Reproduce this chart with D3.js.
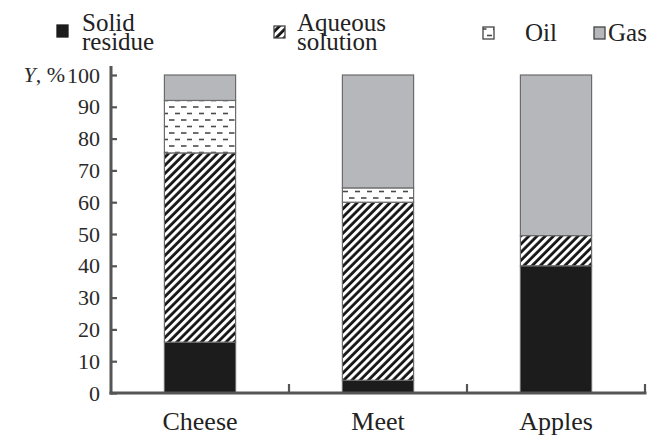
<!DOCTYPE html>
<html>
<head>
<meta charset="utf-8">
<script src="https://cdn.jsdelivr.net/npm/d3@7"></script>
</head>
<body style="margin:0">
<svg id="chart" width="662" height="436" font-family="Liberation Serif"></svg>
<script>
// ---- data ----
const categories = ["Cheese", "Meet", "Apples"];
const seriesNames = ["Solid residue", "Aqueous solution", "Oil", "Gas"];
const solidResidue = [16, 4, 40];
const aqueousSolution = [59.5, 56, 9.5];
const oil = [16.5, 4.5, 0];
const gas = [8, 35.5, 50.5];
const yTicks = [0, 10, 20, 30, 40, 50, 60, 70, 80, 90, 100];
const legendLines = [["Solid", "residue"], ["Aqueous", "solution"], ["Oil"], ["Gas"]];

const FONT = "'Liberation Serif'";
const svg = d3.select("#chart");
const defs = svg.append("defs");

function serif(sel, size) {
  return sel.attr("font-family", "Liberation Serif").attr("font-size", size)
    .style("font-family", FONT).style("font-size", size + "px");
}

// hatch pattern "/"
const hatch = defs.append("pattern").attr("id", "hatch")
  .attr("patternUnits", "userSpaceOnUse").attr("width", 5.8).attr("height", 5.8)
  .attr("patternTransform", "rotate(45)");
hatch.append("rect").attr("width", 5.8).attr("height", 5.8).attr("fill", "#fff");
hatch.append("line").attr("x1", 1.5).attr("x2", 1.5).attr("y1", -1).attr("y2", 7)
  .attr("stroke", "#151515").attr("stroke-width", 2.8);

// oil dashed pattern
const dash = defs.append("pattern").attr("id", "dash")
  .attr("patternUnits", "userSpaceOnUse").attr("width", 12).attr("height", 13)
  .attr("x", 0).attr("y", 0);
dash.append("rect").attr("width", 12).attr("height", 13).attr("fill", "#fff");
dash.append("line").attr("x1", 1).attr("x2", 6.5).attr("y1", 3).attr("y2", 3)
  .attr("stroke", "#4a4a4a").attr("stroke-width", 1.6);
dash.append("line").attr("x1", 7).attr("x2", 12.5).attr("y1", 9.5).attr("y2", 9.5)
  .attr("stroke", "#4a4a4a").attr("stroke-width", 1.6);

const fills = ["#1c1c1c", "url(#hatch)", "url(#dash)", "#b6b7bb"];

// ---- scales ----
const x = d3.scaleBand().domain(categories).range([111, 645]).padding(0);
const y = d3.scaleLinear().domain([0, 100]).range([393, 75]);
const barW = x.bandwidth() * 0.4;

const table = categories.map((c, i) => ({
  category: c,
  "Solid residue": solidResidue[i],
  "Aqueous solution": aqueousSolution[i],
  "Oil": oil[i],
  "Gas": gas[i]
}));
const stacked = d3.stack().keys(seriesNames)(table);

// ---- bars ----
const gBars = svg.append("g");
stacked.forEach((layer, si) => {
  gBars.selectAll(null).data(layer.filter(d => d[1] - d[0] > 0)).enter().append("rect")
    .attr("x", d => x(d.data.category) + (x.bandwidth() - barW) / 2)
    .attr("width", barW)
    .attr("y", d => y(d[1]))
    .attr("height", d => y(d[0]) - y(d[1]))
    .attr("fill", fills[si])
    .attr("stroke", "#6b6b6b")
    .attr("stroke-width", 1.2);
});

// ---- y axis ----
const yAxis = d3.axisLeft(y).tickValues(yTicks).tickFormat(d3.format("d"))
  .tickSizeInner(-6).tickSizeOuter(0).tickPadding(11);
const gy = svg.append("g").attr("transform", "translate(111,0)").call(yAxis);
serif(gy, 22);
gy.select(".domain").remove();
gy.selectAll(".tick line").attr("stroke", "#555").attr("stroke-width", 2.2);
serif(gy.selectAll(".tick text"), 22).attr("fill", "#2a2a2a");
svg.append("line").attr("x1", 111).attr("x2", 111).attr("y1", 66).attr("y2", 394.5)
  .attr("stroke", "#555").attr("stroke-width", 3);

// y label
const yl = serif(svg.append("text"), 22).attr("x", 65).attr("y", y(100)).attr("dy", "0.32em")
  .attr("text-anchor", "end").attr("fill", "#2a2a2a");
yl.append("tspan").attr("font-style", "italic").style("font-style", "italic").text("Y");
yl.append("tspan").text(", %");

// ---- x axis ----
const xAxis = d3.axisBottom(x).tickSize(0).tickPadding(19);
const gx = svg.append("g").attr("transform", "translate(0,393)").call(xAxis);
serif(gx, 26);
gx.select(".domain").remove();
serif(gx.selectAll(".tick text"), 26).attr("fill", "#222");
svg.append("line").attr("x1", 109.5).attr("x2", 646.5).attr("y1", 393).attr("y2", 393)
  .attr("stroke", "#555").attr("stroke-width", 3);
svg.selectAll(null).data(categories).enter().append("line")
  .attr("x1", d => x(d) + x.bandwidth()).attr("x2", d => x(d) + x.bandwidth())
  .attr("y1", 393).attr("y2", 384)
  .attr("stroke", "#555").attr("stroke-width", 2.2);

// ---- legend ----
const legendX = [57, 274, 483, 594];
const textX = [82, 297, 525, 608];
const boxY = [25, 26, 27, 27];
const gl = svg.append("g");
seriesNames.forEach((s, i) => {
  gl.append("rect").attr("x", legendX[i]).attr("y", boxY[i]).attr("width", 11).attr("height", 12)
    .attr("fill", fills[i]).attr("stroke", i === 0 ? "#1c1c1c" : "#444").attr("stroke-width", 1.3);
  const lines = legendLines[i];
  lines.forEach((ln, j) => {
    serif(gl.append("text"), 25).attr("x", textX[i])
      .attr("y", lines.length === 2 ? (j === 0 ? 31 : 50) : 41)
      .attr("fill", "#222")
      .text(ln);
  });
});
</script>
</body>
</html>
